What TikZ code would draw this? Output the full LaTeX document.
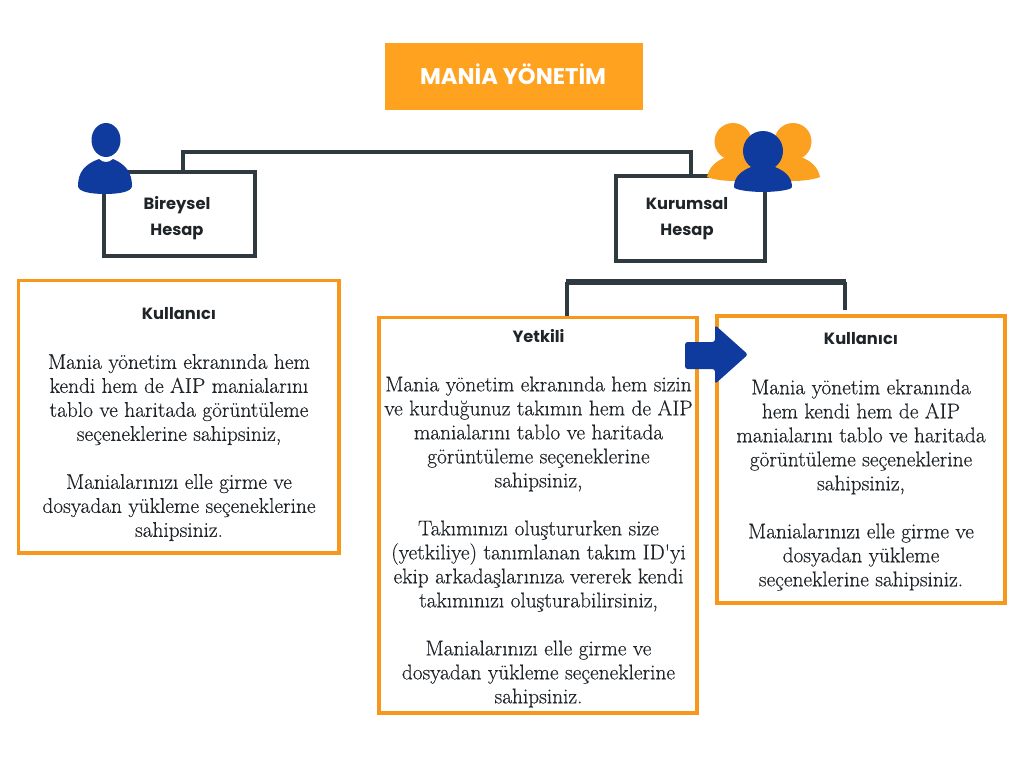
\documentclass[tikz,border=0pt]{standalone}
\usepackage{fontspec}
\setmainfont{Latin Modern Roman}
\newfontfamily\headfont{Poppins}
\newfontfamily\bodyfont[FakeBold=0.35]{Latin Modern Roman}
\usetikzlibrary{fit,calc}
\definecolor{boxorange}{HTML}{F7981D}
\definecolor{titleorange}{HTML}{FFA220}
\definecolor{iconorange}{HTML}{FBA11F}
\definecolor{dark}{HTML}{2F3A40}
\definecolor{iconblue}{HTML}{0F3A9E}
\definecolor{ink}{HTML}{1F2428}
\tikzset{
  x=0.75pt,y=-0.75pt,
  titlebox/.style={fit={#1},inner sep=0pt,fill=titleorange,draw=none},
  accountbox/.style={fit={#1},inner sep=0pt,draw=dark,line width=3pt,fill=white},
  infobox/.style={fit={#1},inner sep=0pt,draw=boxorange,line width=2.3pt,fill=white},
  heading/.style={font=\headfont\bfseries\fontsize{12.2}{19.5}\selectfont,text=ink,align=center,inner sep=0pt},
  bodytext/.style={font=\bodyfont\fontsize{16}{18}\selectfont,text=ink,align=center,inner sep=0pt},
  connector/.style={draw=dark,line width=2.4pt},
  bar/.style={draw=dark,line width=3.6pt},
  blueshape/.style={fill=iconblue},
  orangeshape/.style={fill=iconorange},
}
\begin{document}
\begin{tikzpicture}
\useasboundingbox (0,0) rectangle (1024,768);
\fill[white] (0,0) rectangle (1024,768);

% Title
\node[titlebox={(385,43)(643,110)}] (title) {};
\node[font=\headfont\bfseries\fontsize{17}{18}\selectfont,text=white,inner sep=0pt] (titletext) at (513,74.5) {MANİA YÖNETİM};

% Connector coordinates
\coordinate (t1) at (183,152);
\coordinate (t2) at (691,152);
\coordinate (b1) at (567,282);
\coordinate (b2) at (845,282);

% Account boxes
\node[accountbox={(104,172)(255,256)}] (bireysel) {};
\node[accountbox={(616,176)(765,261)}] (kurumsal) {};
\node[heading] (bireyseltext) at (177,218) {Bireysel\\Hesap};
\node[heading] (kurumsaltext) at (687,218.5) {Kurumsal\\Hesap};

% Info boxes
\node[infobox={(18.5,280.5)(339,553)}] (left) {};
\node[infobox={(379,317.5)(697,713)}] (mid) {};
\node[infobox={(717,316)(1005,603)}] (right) {};

% Connectors
\draw[connector] (t1) -- (bireysel.north -| t1);
\draw[connector] (t2) -- (kurumsal.north -| t2);
\draw[bar,line cap=rect] (t1) -- (t2);
\coordinate (b2end) at (845,310);
\draw[connector] (b1) -- (mid.north -| b1);
\draw[connector] (b2) -- (b2end);
\draw[bar,line width=4pt] ($(b1)+(-1,0)$) -- ($(b2)+(1,0)$);

% Text
\node[heading] (lefthead) at (179,314) {Kullanıcı};
\node[bodytext] (leftbody) at (179,447.5) {Mania yönetim ekranında hem\\kendi hem de AIP manialarını\\tablo ve haritada görüntüleme\\seçeneklerine sahipsiniz,\\\mbox{}\\Manialarınızı elle girme ve\\dosyadan yükleme seçeneklerine\\sahipsiniz.};
\node[heading] (midhead) at (538.5,336) {Yetkili};
\node[bodytext] (midbody) at (538.5,542) {Mania yönetim ekranında hem sizin\\ve kurduğunuz takımın hem de AIP\\manialarını tablo ve haritada\\görüntüleme seçeneklerine\\sahipsiniz,\\\mbox{}\\Takımınızı oluştururken size\\(yetkiliye) tanımlanan takım ID'yi\\ekip arkadaşlarınıza vererek kendi\\takımınızı oluşturabilirsiniz,\\\mbox{}\\Manialarınızı elle girme ve\\dosyadan yükleme seçeneklerine\\sahipsiniz.};
\node[heading] (righthead) at (861,339) {Kullanıcı};
\node[bodytext] (rightbody) at (861,485) {Mania yönetim ekranında\\hem kendi hem de AIP\\manialarını tablo ve haritada\\görüntüleme seçeneklerine\\sahipsiniz,\\\mbox{}\\Manialarınızı elle girme ve\\dosyadan yükleme\\seçeneklerine sahipsiniz.};

% Arrow
\fill[blueshape,rounded corners=2pt] (685,342) -- (715,342) -- (715,325) -- (748,354.5) -- (715,384) -- (715,369) -- (685,369) -- cycle;

% Single user icon
\fill[blueshape] (106,140) ellipse [x radius=14.5,y radius=17];
\fill[blueshape] (78,186) .. controls (78,172) and (85,164) .. (99,159) .. controls (103,163) and (109,163) .. (113,159) .. controls (125,164) and (132,172) .. (132,186) .. controls (132,192) and (118,194) .. (105,194) .. controls (92,194) and (78,192) .. (78,186) -- cycle;

% Group icon
\fill[orangeshape] (733,141.5) circle [radius=18.5];
\fill[orangeshape] (793,141.5) circle [radius=18.5];
\fill[orangeshape] (707,177) .. controls (709,167) and (716,161) .. (726,157) -- (750,157) -- (765,181) -- (735,181) .. controls (722,181) and (712,179) .. (707,177) -- cycle;
\fill[orangeshape] (820,177) .. controls (818,167) and (811,161) .. (801,157) -- (777,157) -- (762,181) -- (792,181) .. controls (805,181) and (815,179) .. (820,177) -- cycle;
\fill[blueshape] (763,151) circle [radius=20];
\fill[blueshape] (734,187) .. controls (734,177) and (741,171) .. (751,167) -- (775,167) .. controls (785,171) and (792,177) .. (792,187) .. controls (792,190) and (775,192) .. (763,192) .. controls (751,192) and (734,190) .. (734,187) -- cycle;
\end{tikzpicture}
\end{document}
